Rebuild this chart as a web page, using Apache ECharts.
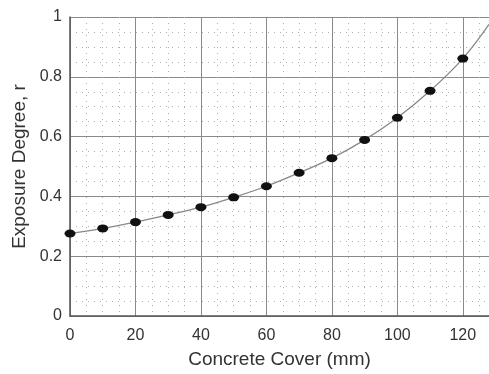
<!DOCTYPE html>
<html><head><meta charset="utf-8">
<script src="https://cdn.jsdelivr.net/npm/echarts@6/dist/echarts.min.js"></script>
<style>html,body{margin:0;padding:0;background:#fff}#c{width:489px;height:374px}</style>
</head><body><div id="c"></div>
<script>
const coverMM = [0, 10, 20, 30, 40, 50, 60, 70, 80, 90, 100, 110, 120];
const exposure = [0.276, 0.293, 0.314, 0.338, 0.364, 0.397, 0.434, 0.479, 0.528, 0.589, 0.663, 0.753, 0.861];
const curveX = [0, 10, 20, 30, 40, 50, 60, 70, 80, 90, 100, 110, 120, 128];
const curveY = [0.276, 0.293, 0.314, 0.338, 0.364, 0.397, 0.434, 0.479, 0.528, 0.589, 0.663, 0.753, 0.861, 0.975];
const xTicks = [0, 20, 40, 60, 80, 100, 120];
const yTicks = [0, 0.2, 0.4, 0.6, 0.8, 1];

const chart = echarts.init(document.getElementById('c'), null, {renderer: 'canvas'});
const font = 'Liberation Sans, Arial, sans-serif';
chart.setOption({
  animation: false,
  backgroundColor: '#fff',
  grid: {left: 70, right: 0, top: 17, bottom: 57, containLabel: false},
  xAxis: {
    type: 'value', min: 0, max: 128, interval: 20,
    name: 'Concrete Cover (mm)', nameLocation: 'middle', nameGap: 34,
    nameTextStyle: {fontFamily: font, fontSize: 19, color: '#333'},
    axisLine: {show: true, onZero: false, lineStyle: {color: '#555', width: 1.5}},
    axisTick: {show: false},
    axisLabel: {fontFamily: font, fontSize: 16, color: '#333', margin: 12,
      showMaxLabel: false,
      formatter: v => xTicks.includes(v) ? String(v) : ''},
    splitLine: {show: true, lineStyle: {color: '#8a8a8a', width: 1}},
    minorTick: {show: false, splitNumber: 4},
    minorSplitLine: {show: true, lineStyle: {color: '#b0b0b0', type: [1, 5], width: 1}}
  },
  yAxis: {
    type: 'value', min: 0, max: 1, interval: 0.2,
    name: 'Exposure Degree, r', nameLocation: 'middle', nameGap: 38,
    nameTextStyle: {fontFamily: font, fontSize: 19, color: '#333'},
    axisLine: {show: true, lineStyle: {color: '#555', width: 1.5}},
    axisTick: {show: false},
    axisLabel: {fontFamily: font, fontSize: 16, color: '#333', margin: 8,
      formatter: v => { const t = yTicks.find(k => Math.abs(k - v) < 1e-9); return t === undefined ? '' : String(t); }},
    splitLine: {show: true, lineStyle: {color: '#8a8a8a', width: 1}},
    minorTick: {show: false, splitNumber: 4},
    minorSplitLine: {show: true, lineStyle: {color: '#b0b0b0', type: [1, 5], width: 1}}
  },
  series: [
    {type: 'line', data: curveX.map((x, i) => [x, curveY[i]]), smooth: 0.4, showSymbol: false,
     symbol: 'none', lineStyle: {color: '#888', width: 1.3}, z: 3},
    {type: 'scatter', data: coverMM.map((x, i) => [x, exposure[i]]), symbol: 'circle',
     symbolSize: [11, 8], itemStyle: {color: '#111', opacity: 1}, z: 4}
  ]
});
</script></body></html>
